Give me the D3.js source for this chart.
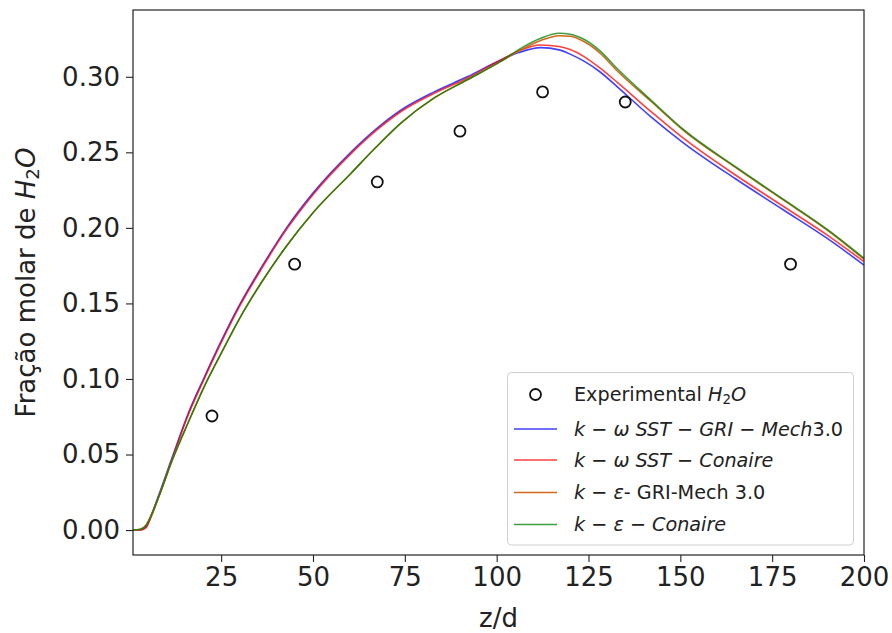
<!DOCTYPE html>
<html>
<head>
<meta charset="utf-8">
<script src="https://cdn.jsdelivr.net/npm/d3@7"></script>
<style>
  html, body { margin: 0; padding: 0; background: #ffffff; }
  svg { display: block; font-family: "DejaVu Sans", sans-serif; }
</style>
</head>
<body>
<svg id="chart" width="892" height="633"></svg>
<script>
// ---------------- data ----------------
const zGrid = [1, 3, 4.5, 6, 8, 11.8, 16, 20.2, 25, 30, 36, 42.8, 50, 60.3, 67, 74, 83, 92, 101, 106, 112, 117, 120, 124, 128, 133, 142, 151, 165, 178, 190, 200];
const blueVals   = [0, 0, 0.002, 0.010, 0.023, 0.049, 0.077, 0.100, 0.125, 0.149, 0.174, 0.200, 0.223, 0.250, 0.265, 0.278, 0.290, 0.300, 0.311, 0.316, 0.3193, 0.3178, 0.3150, 0.3100, 0.3035, 0.2930, 0.2735, 0.2560, 0.2325, 0.2120, 0.1930, 0.1754];
const redVals    = [0, 0, 0.0015, 0.009, 0.022, 0.048, 0.076, 0.099, 0.124, 0.148, 0.173, 0.199, 0.222, 0.249, 0.264, 0.277, 0.289, 0.299, 0.311, 0.317, 0.3210, 0.3200, 0.3180, 0.3130, 0.3060, 0.2960, 0.2770, 0.2590, 0.2350, 0.2143, 0.1952, 0.1776];
const orangeVals = [0, 0.0005, 0.003, 0.010, 0.022, 0.047, 0.071, 0.094, 0.117, 0.140, 0.164, 0.188, 0.210, 0.236, 0.253, 0.2695, 0.286, 0.298, 0.310, 0.317, 0.3240, 0.3272, 0.3268, 0.3230, 0.3160, 0.3035, 0.2838, 0.2642, 0.2400, 0.2185, 0.1985, 0.1793];
const greenVals  = [0, 0.0005, 0.003, 0.010, 0.022, 0.047, 0.071, 0.094, 0.117, 0.140, 0.164, 0.188, 0.210, 0.236, 0.253, 0.2695, 0.286, 0.298, 0.310, 0.318, 0.3255, 0.3288, 0.3282, 0.3245, 0.3175, 0.3050, 0.2846, 0.2648, 0.2405, 0.2190, 0.1990, 0.1799];
const expZ    = [22.5, 45, 67.5, 90, 112.5, 135, 180];
const expVals = [0.0755, 0.176, 0.2304, 0.264, 0.290, 0.2833, 0.176];
const xTicks = [25, 50, 75, 100, 125, 150, 175, 200];
const yTicks = [0, 0.05, 0.10, 0.15, 0.20, 0.25, 0.30];
const seriesNames  = ["blue", "red", "orange", "green"];
const seriesColors = ["rgba(0,0,255,0.75)", "rgba(255,0,0,0.75)", "#d2691e", "rgba(0,128,0,0.75)"];

// ---------------- layout ----------------
const svg = d3.select("#chart");
const L = 133, R = 864, T = 10, B = 555;
const x = d3.scaleLinear().domain([1, 200]).range([L, R]);
const y = d3.scaleLinear().domain([-0.0165, 0.3442]).range([B, T]);
const tickFont = 26;

// lines
const seriesVals = [blueVals, redVals, orangeVals, greenVals];
const line = d3.line().x(d => x(d[0])).y(d => y(d[1])).curve(d3.curveMonotoneX);
const plot = svg.append("g");
seriesVals.forEach((vals, i) => {
  plot.append("path")
    .datum(zGrid.map((z, k) => [z, vals[k]]))
    .attr("fill", "none")
    .attr("stroke", seriesColors[i])
    .attr("stroke-width", 1.6)
    .attr("d", line);
});

// experimental points
plot.selectAll("circle.exp")
  .data(expZ.map((z, k) => [z, expVals[k]]))
  .join("circle")
  .attr("class", "exp")
  .attr("cx", d => x(d[0]))
  .attr("cy", d => y(d[1]))
  .attr("r", 5.5)
  .attr("fill", "none")
  .attr("stroke", "#111")
  .attr("stroke-width", 1.8);

// axes
const xAxis = d3.axisBottom(x).tickValues(xTicks).tickFormat(d3.format("d")).tickSize(7).tickPadding(6);
const yAxis = d3.axisLeft(y).tickValues(yTicks).tickFormat(d3.format(".2f")).tickSize(7).tickPadding(6);
const gx = svg.append("g").attr("transform", `translate(0,${B})`).call(xAxis);
const gy = svg.append("g").attr("transform", `translate(${L},0)`).call(yAxis);
[gx, gy].forEach(g => {
  g.select(".domain").remove();
  g.selectAll(".tick line").attr("stroke", "#222").attr("stroke-width", 1.1);
  g.selectAll(".tick text").attr("fill", "#222").attr("font-size", tickFont)
    .attr("font-family", "DejaVu Sans, sans-serif");
});

// frame
svg.append("rect").attr("x", L).attr("y", T).attr("width", R - L).attr("height", B - T)
  .attr("fill", "none").attr("stroke", "#222").attr("stroke-width", 1.2);

// helper for rich text
function rich(sel, parts, size) {
  parts.forEach(p => {
    const ts = sel.append("tspan").text(p.t);
    if (p.i) ts.attr("font-style", "italic");
    if (p.sub) ts.attr("font-size", size * 0.7).attr("baseline-shift", "-22%");
  });
}

// axis labels
svg.append("text").attr("x", (L + R) / 2).attr("y", 627).attr("text-anchor", "middle")
  .attr("font-size", tickFont).attr("fill", "#222").text("z/d");
const yl = svg.append("text").attr("transform", `translate(35,${(T + B) / 2}) rotate(-90)`)
  .attr("text-anchor", "middle").attr("font-size", tickFont).attr("fill", "#222");
rich(yl, [{t: "Fração molar de "}, {t: "H", i: true}, {t: "2", sub: true}, {t: "O", i: true}], tickFont);

// legend
const legFont = 19.2;
const leg = svg.append("g");
leg.append("rect").attr("x", 507.5).attr("y", 372.5).attr("width", 346).attr("height", 172.5)
  .attr("rx", 4).attr("fill", "rgba(255,255,255,0.8)").attr("stroke", "#d0d0d0").attr("stroke-width", 1);
const rowsY = [394.5, 429, 460, 492.5, 524.5];
const legendLabels = [
  [{t: "Experimental "}, {t: "H", i: true}, {t: "2", sub: true}, {t: "O", i: true}],
  [{t: "k", i: true}, {t: " − "}, {t: "ω SST", i: true}, {t: " − "}, {t: "GRI", i: true}, {t: " − "}, {t: "Mech", i: true}, {t: "3.0"}],
  [{t: "k", i: true}, {t: " − "}, {t: "ω SST", i: true}, {t: " − "}, {t: "Conaire", i: true}],
  [{t: "k", i: true}, {t: " − "}, {t: "ε", i: true}, {t: "- GRI-Mech 3.0"}],
  [{t: "k", i: true}, {t: " − "}, {t: "ε", i: true}, {t: " − "}, {t: "Conaire", i: true}]
];
leg.append("circle").attr("cx", 535.5).attr("cy", rowsY[0]).attr("r", 5.5)
  .attr("fill", "none").attr("stroke", "#111").attr("stroke-width", 1.8);
seriesNames.forEach((n, i) => {
  leg.append("line").attr("x1", 514).attr("x2", 557).attr("y1", rowsY[i + 1]).attr("y2", rowsY[i + 1])
    .attr("stroke", seriesColors[i]).attr("stroke-width", 1.6);
});
legendLabels.forEach((parts, i) => {
  const t = leg.append("text").attr("x", 574).attr("y", rowsY[i]).attr("dy", "0.35em")
    .attr("font-size", legFont).attr("fill", "#222");
  rich(t, parts, legFont);
});
</script>
</body>
</html>
